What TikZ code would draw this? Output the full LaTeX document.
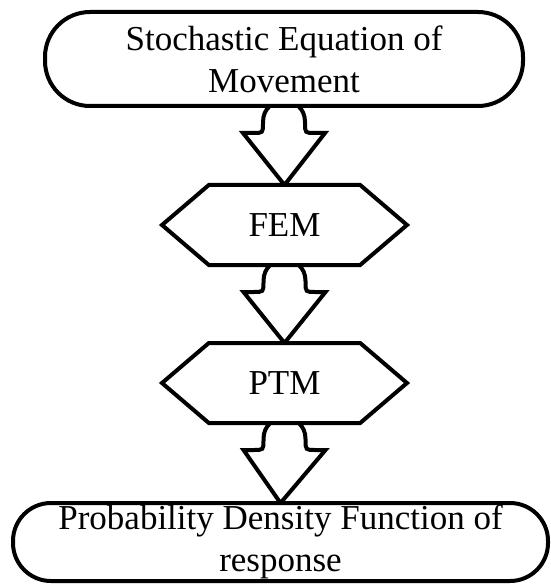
\documentclass[tikz,border=0pt]{standalone}
\usepackage{fontspec}
\setmainfont{Liberation Serif}
\usetikzlibrary{shapes.symbols,calc,backgrounds}

\begin{document}
\begin{tikzpicture}[
x=1pt, y=-1pt,
line width=4pt,
term/.style={draw, fill=white, rounded corners=45pt, align=center, inner sep=0pt, outer sep=0pt, minimum width=478pt, minimum height=94pt, font=\fontsize{35}{42}\selectfont},
proc/.style={draw, fill=white, signal, signal to=west and east, signal pointer angle=81, inner sep=0pt, outer sep=0pt, minimum width=245pt, minimum height=80pt, font=\fontsize{35}{42}\selectfont},
blockarrow/.style={draw, line width=4pt, line join=miter}
]
\useasboundingbox (0,0) rectangle (550,585);
\node[term] (eqn) at (284,59) {Stochastic Equation of\\Movement};
\node[proc] (fem) at (284.5,225) {FEM};
\node[proc] (ptm) at (284.5,383) {PTM};
\node[term, rounded corners=38pt, minimum width=535pt, minimum height=78pt] (pdf) at (280.5,542) {Probability Density Function of\\response};

% block arrows behind the boxes
\begin{scope}[on background layer]
\draw[blockarrow, shift={(eqn.south)}] (fem.north) -- (-41,27) -- (-31,27) .. controls (-21,27) .. (-21,17) -- (-21,16) .. controls (-21,-12) and (21,-12) .. (21,16) -- (21,17) .. controls (21,27) .. (31,27) -- (41,27) -- cycle;
\draw[blockarrow, shift={(fem.south)}] (ptm.north) -- (-41,27) -- (-31,27) .. controls (-21,27) .. (-21,17) -- (-21,16) .. controls (-21,-12) and (21,-12) .. (21,16) -- (21,17) .. controls (21,27) .. (31,27) -- (41,27) -- cycle;
\draw[blockarrow, shift={(ptm.south)}] (pdf.north) -- (-41,27) -- (-31,27) .. controls (-21,27) .. (-21,17) -- (-21,16) .. controls (-21,-12) and (21,-12) .. (21,16) -- (21,17) .. controls (21,27) .. (31,27) -- (41,27) -- cycle;
\end{scope}
\end{tikzpicture}
\end{document}
